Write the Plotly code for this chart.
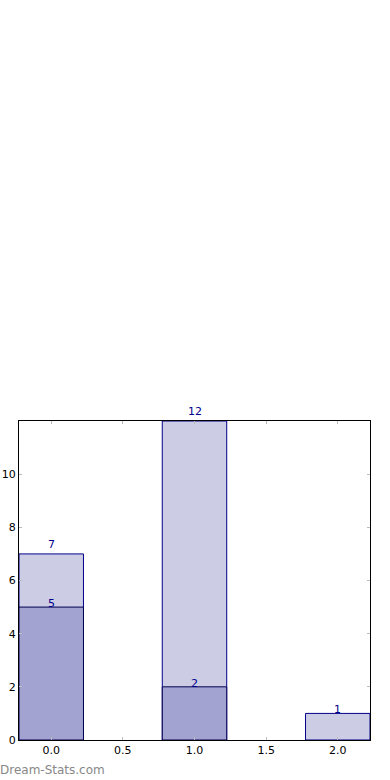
import plotly.graph_objects as go

x_light = [0, 1, 2]
y_light = [7, 12, 1]
x_dark = [0, 1]
y_dark = [5, 2]
x_ticks = [0, 0.5, 1, 1.5, 2]
x_ticktext = ["0.0", "0.5", "1.0", "1.5", "2.0"]
y_ticks = [0, 2, 4, 6, 8, 10]

light_shift = [1, 1, -5]
dark_shift = [-5, -5]

fig = go.Figure()
fig.add_trace(go.Bar(x=x_light, y=y_light, width=0.45,
                     marker=dict(color="#cccce5", line=dict(color="#00008b", width=1))))
fig.add_trace(go.Bar(x=x_dark, y=y_dark, width=0.45,
                     marker=dict(color="#a3a3d2", line=dict(color="#000050", width=1))))

for xv, yv, s in zip(x_light, y_light, light_shift):
    fig.add_annotation(x=xv, y=yv, text=str(yv), showarrow=False, yanchor="bottom",
                       yshift=s, font=dict(color="#00008b", size=11, family="DejaVu Sans"))
for xv, yv, s in zip(x_dark, y_dark, dark_shift):
    fig.add_annotation(x=xv, y=yv, text=str(yv), showarrow=False, yanchor="bottom",
                       yshift=s, font=dict(color="#00008b", size=11, family="DejaVu Sans"))

fig.add_annotation(x=0, y=0, xref="paper", yref="paper", xanchor="left", yanchor="top",
                   xshift=-21, yshift=-21, text="Dream-Stats.com", showarrow=False,
                   font=dict(color="#888888", size=12, family="DejaVu Sans"))

axis_common = dict(showline=True, linecolor="black", linewidth=1, mirror="allticks",
                   ticks="inside", ticklen=3, tickcolor="#bbbbbb", showgrid=False,
                   zeroline=False, automargin=False,
                   tickfont=dict(family="DejaVu Sans", size=11, color="black"))
fig.update_xaxes(range=[-0.225, 2.225], tickvals=x_ticks, ticktext=x_ticktext, **axis_common)
fig.update_yaxes(range=[0, 12], tickvals=y_ticks, **axis_common)

fig.update_layout(width=390, height=780, barmode="overlay", showlegend=False,
                  plot_bgcolor="white", paper_bgcolor="white",
                  margin=dict(l=19, r=20, t=421, b=40))
fig.write_html("out.html")
